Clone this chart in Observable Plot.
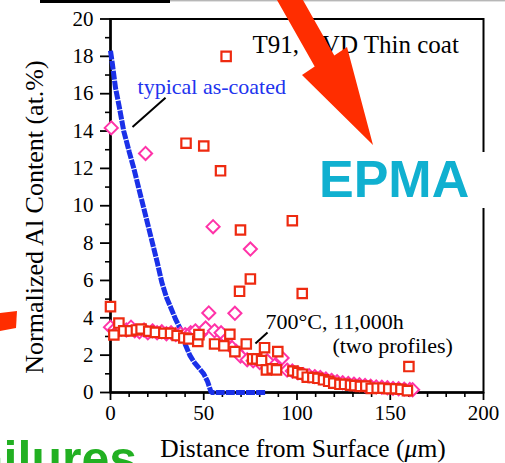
<!DOCTYPE html>
<html><head><meta charset="utf-8">
<script src="https://cdn.jsdelivr.net/npm/d3@7"></script>
<script src="https://cdn.jsdelivr.net/npm/@observablehq/plot@0.6"></script>
<style>body{margin:0;background:#fff;}svg{display:block;}</style>
</head><body>
<script>
// ---- data ----
const xTicks = [0, 50, 100, 150, 200];
const xMinor = [10, 20, 30, 40, 60, 70, 80, 90, 110, 120, 130, 140, 160, 170, 180, 190];
const yTicks = [0, 2, 4, 6, 8, 10, 12, 14, 16, 18, 20];
const yMinor = [1, 3, 5, 7, 9, 11, 13, 15, 17, 19];

// typical as-coated profile (blue dashed)
const coatX = [0, 1, 2.7, 4.5, 7.1, 10, 12.5, 15, 17.5, 20, 22.5, 25, 27.5, 30, 32.5, 35, 37.5, 40, 42.5, 45, 47.5, 50, 52, 54, 56, 60, 65, 70, 75, 80, 83];
const coatY = [18.3, 17.6, 16.3, 15.4, 14.0, 12.9, 12.0, 11.0, 10.0, 9.0, 8.0, 7.0, 5.9, 5.1, 4.5, 3.9, 3.4, 2.6, 2.0, 1.6, 1.3, 1.0, 0.6, 0.0, 0, 0, 0, 0, 0, 0, 0];

// 700°C, 11,000h profile 1 (red squares)
const sqX = [0, 1.8, 4.5, 7.1, 10.7, 13.9, 16.4, 20.5, 24.1, 28.6, 32.2, 35.7, 39.3, 42, 46.8, 47.4, 55.8, 60.8, 64, 66.7, 72.8, 76.2, 78.4, 81, 82.6, 83.6, 86.7, 89, 89.7, 97.8, 100.4, 102.8, 105.5, 108.5, 111.2, 114.2, 117, 119.7, 123, 125.5, 128.7, 131, 134, 136.9, 139.8, 143, 146.1, 149.2, 152.8, 155.7, 159.2,
  62, 40.5, 50, 59, 69.7, 97.5, 102.8, 75, 69.2, 160];
const sqY = [4.6, 3.08, 3.72, 3.3, 3.3, 3.35, 3.4, 3.28, 3.22, 3.17, 3.17, 3.05, 2.92, 2.87, 2.73, 3.1, 2.6, 2.5, 3.12, 2.19, 2.6, 1.8, 1.8, 1.71, 2.4, 1.21, 1.27, 1.21, 2.19, 1.15, 1.06, 0.98, 0.82, 0.8, 0.76, 0.68, 0.6, 0.5, 0.44, 0.44, 0.39, 0.37, 0.33, 0.34, 0.22, 0.23, 0.23, 0.2, 0.2, 0.17, 0.1,
  18.0, 13.35, 13.2, 11.87, 8.7, 9.2, 5.3, 6.08, 5.42, 1.39];

// profile 2 (pink diamonds)
const dmX = [0, 2, 4, 6, 8.5, 11, 13, 15.5, 18, 20, 22.5, 25, 27.5, 30, 32.5, 35, 37.5, 40, 43, 45.5, 48.3, 51, 55.8, 59.3, 62.6, 65.2, 67.5, 69.7, 73.3, 76.5, 80, 84, 88, 92, 94.7, 97.5, 100.5, 103.5, 106.5, 109.5, 112.5, 115.5, 118.5, 121.5, 124.5, 127.5, 130.5, 133.5, 136.5, 139.5, 142.5, 145.5, 148.5, 151.5, 154.5, 157.5, 160.5, 162,
  0.4, 18.8, 55, 75, 52.7, 66.7];
const dmY = [3.5, 3.35, 3.3, 3.4, 3.35, 3.5, 3.3, 3.25, 3.35, 3.2, 3.3, 3.2, 3.25, 3.15, 3.2, 3.1, 3.15, 3.1, 3.2, 3.3, 3.15, 3.45, 3.3, 3.2, 2.9, 2.4, 2.2, 1.95, 1.75, 1.7, 1.6, 1.7, 1.45, 1.85, 1.2, 1.15, 1.05, 0.95, 0.9, 0.85, 0.8, 0.72, 0.65, 0.58, 0.52, 0.48, 0.45, 0.42, 0.38, 0.33, 0.3, 0.28, 0.25, 0.22, 0.2, 0.18, 0.16, 0.15,
  14.17, 12.8, 8.88, 7.68, 4.26, 4.24];

const coat = coatX.map((x, i) => ({x, y: coatY[i]}));
const squares = sqX.map((x, i) => ({x, y: sqY[i]}));
const diamonds = dmX.map((x, i) => ({x, y: dmY[i]}));

const serif = "'Liberation Serif', 'Times New Roman', serif";
const sans = "'Liberation Sans', Arial, sans-serif";

const chart = Plot.plot({
  width: 505, height: 463,
  marginLeft: 110, marginRight: 22, marginTop: 18.5, marginBottom: 71,
  style: {fontFamily: serif, fontSize: "21px", color: "black", background: "white"},
  x: {domain: [0, 200], label: null},
  y: {domain: [0, 20], label: null},
  marks: [
    Plot.frame({stroke: "black", strokeWidth: 2}),
    Plot.axisX({ticks: xMinor, tickSize: 5, text: null, strokeWidth: 1.6}),
    Plot.axisX({ticks: xTicks, tickSize: 8, tickPadding: 5, strokeWidth: 1.8, fontSize: 21, label: null}),
    Plot.axisY({ticks: yMinor, tickSize: 5, text: null, strokeWidth: 1.6}),
    Plot.axisY({ticks: yTicks, tickSize: 10, tickPadding: 7, strokeWidth: 1.8, fontSize: 21, label: null}),
    Plot.ruleX([0], {strokeWidth: 2.5}),
    Plot.ruleY([0], {strokeWidth: 2.5}),
    Plot.line(coat, {x: "x", y: "y", stroke: "#1a30e8", strokeWidth: 5, strokeDasharray: "9,1.1", strokeLinecap: "butt", strokeLinejoin: "miter"}),
    Plot.dot(diamonds, {x: "x", y: "y", symbol: "diamond2", r: 5.9, stroke: "#ff33a8", strokeWidth: 2, fill: "white"}),
    Plot.dot(squares, {x: "x", y: "y", symbol: "square", r: 5.3, stroke: "#ee2a10", strokeWidth: 2.2, fill: "white"}),
    Plot.text(["T91, CVD Thin coat"], {x: 76.1, y: 18.59, text: d => d, textAnchor: "start", lineAnchor: "middle", fontSize: 25, fill: "black"}),
    Plot.text(["typical as-coated"], {x: 14.5, y: 16.36, text: d => d, textAnchor: "start", lineAnchor: "middle", fontSize: 22, fill: "#2233ee"}),
    Plot.link([{x1: 29.5, y1: 15.78, x2: 11.8, y2: 14.22}], {x1: "x1", y1: "y1", x2: "x2", y2: "y2", stroke: "black", strokeWidth: 2}),
    Plot.text(["700°C, 11,000h"], {x: 83.1, y: 3.80, text: d => d, textAnchor: "start", lineAnchor: "middle", fontSize: 22, fill: "black"}),
    Plot.text(["(two profiles)"], {x: 119, y: 2.51, text: d => d, textAnchor: "start", lineAnchor: "middle", fontSize: 22, fill: "black"}),
    Plot.link([{x1: 84.2, y1: 3.21, x2: 77.7, y2: 2.62}], {x1: "x1", y1: "y1", x2: "x2", y2: "y2", stroke: "black", strokeWidth: 2})
  ]
});
document.body.appendChild(chart);

const svg = d3.select(chart);
// axis titles
svg.append("text").attr("x", 303).attr("y", 457).attr("text-anchor", "middle")
  .style("font-family", serif).style("font-size", "25.5px").attr("fill", "black")
  .call(t => { t.append("tspan").text("Distance from Surface ("); t.append("tspan").attr("font-style", "italic").text("\u03bc"); t.append("tspan").text("m)"); });
svg.append("text").attr("transform", "translate(43,217) rotate(-90)").attr("text-anchor", "middle")
  .style("font-family", serif).style("font-size", "26px").attr("fill", "black")
  .text("Normalized Al Content (at.%)");

// slide decorations
svg.append("rect").attr("x", 40).attr("y", 0).attr("width", 130).attr("height", 3).attr("fill", "black");
svg.append("line").attr("x1", 170).attr("x2", 505).attr("y1", 0.8).attr("y2", 0.8).attr("stroke", "#999").attr("stroke-width", 1);
svg.append("polygon").attr("points", "274.5,-4.4 314.7,66.6 302,75 373,145 347,47 334.3,55.4 294.1,-15.6").attr("fill", "#ff2d00");
svg.append("polygon").attr("points", "0,313 17,311 16,328 0,331").attr("fill", "#ff2d00");
svg.append("rect").attr("x", 315).attr("y", 152).attr("width", 190).attr("height", 56).attr("fill", "white");
svg.append("text").attr("x", 319).attr("y", 197).attr("text-anchor", "start").style("font-family", sans)
  .style("font-weight", "bold").style("font-size", "52px").attr("fill", "#10b0d0").text("EPMA");
svg.append("text").attr("x", 137).attr("y", 476).attr("text-anchor", "end").style("font-family", sans)
  .style("font-weight", "bold").style("font-size", "50px").attr("fill", "#22b022").text("Failures");
</script>
</body></html>
